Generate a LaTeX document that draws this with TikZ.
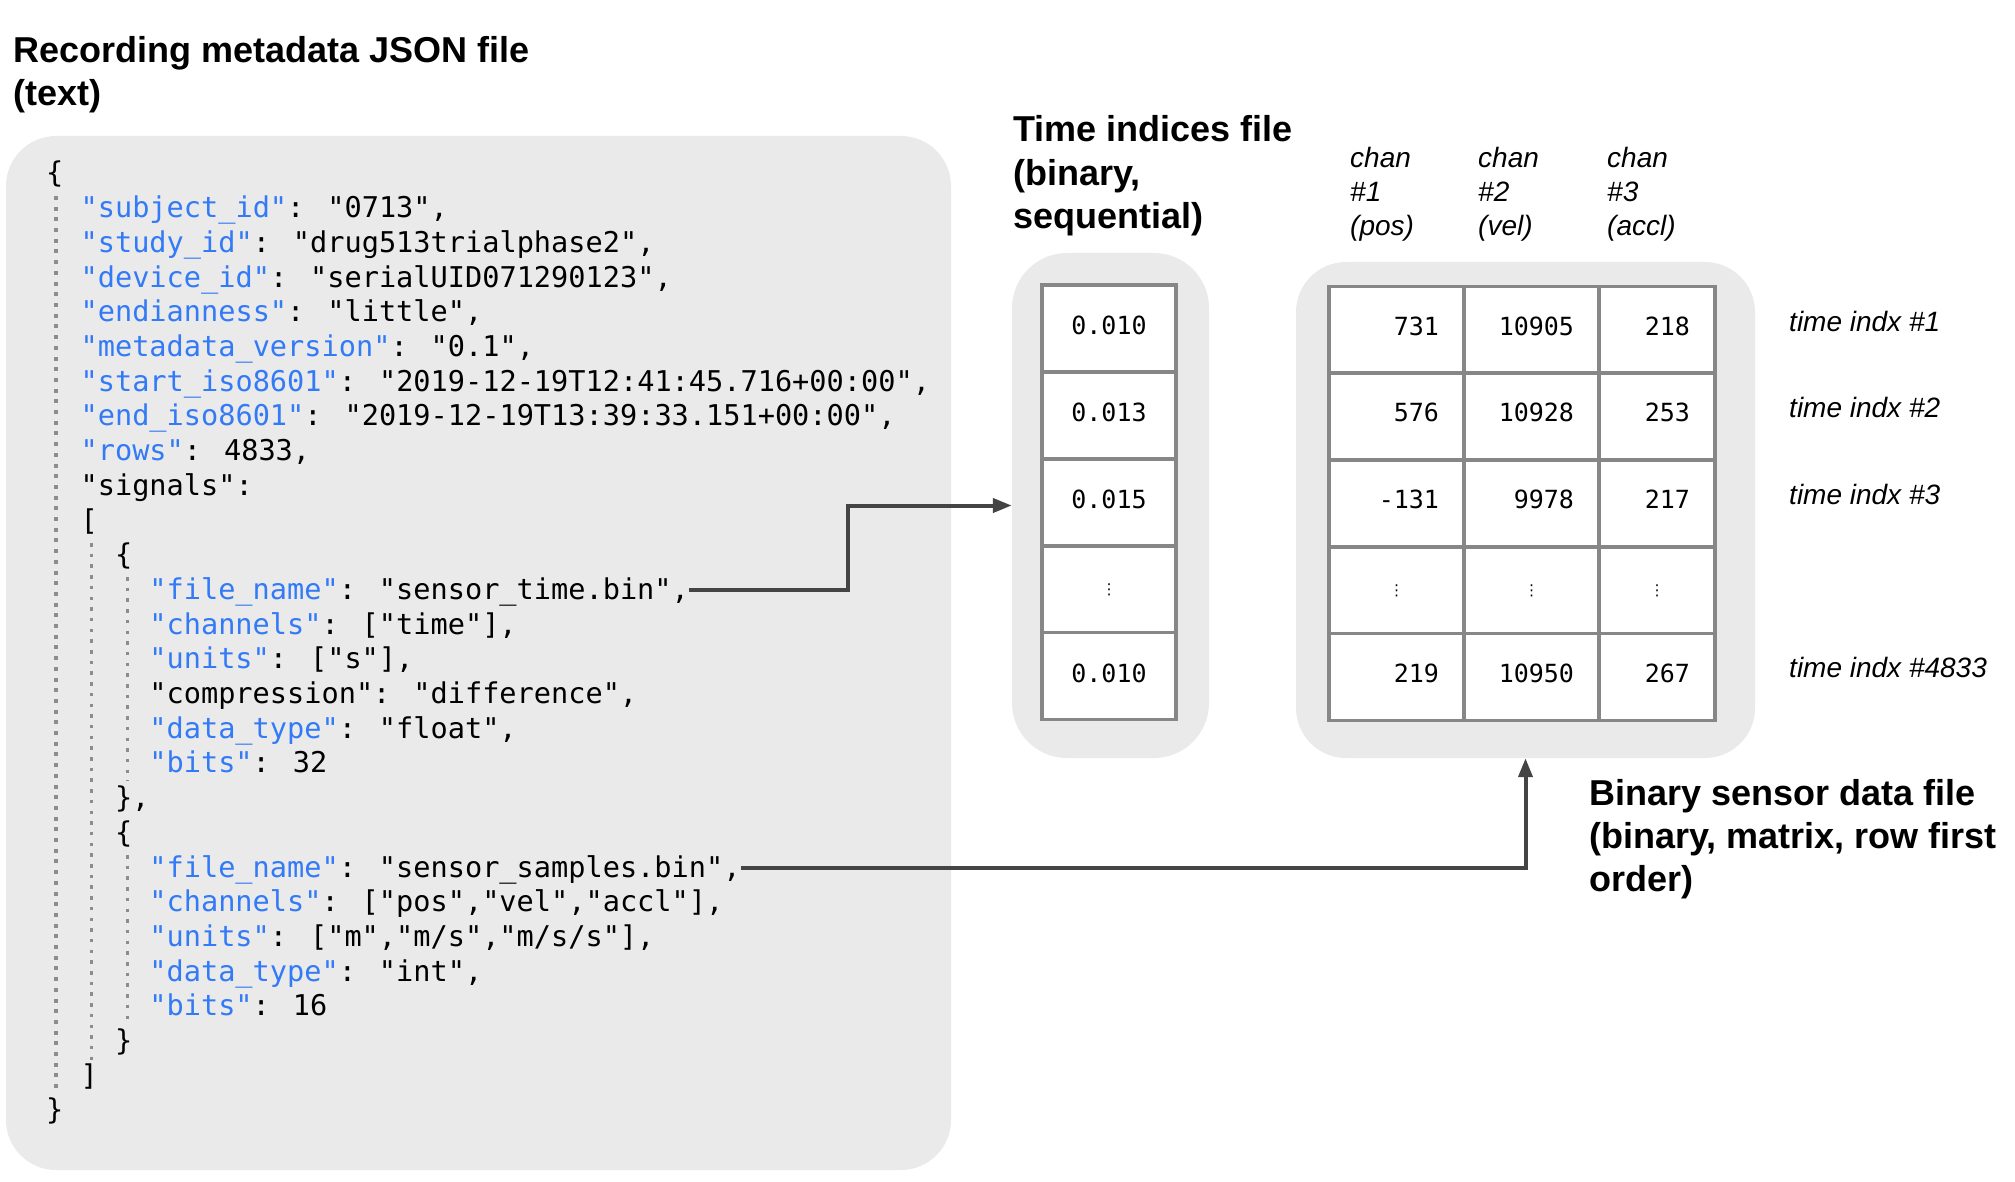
\documentclass[tikz,border=0pt]{standalone}
\usepackage{fontspec}
\setmainfont{Liberation Sans}
\newfontfamily\jsonmono{DejaVu Sans Mono}
\newfontfamily\dotsfont{DejaVu Sans}
\usetikzlibrary{arrows.meta}
\definecolor{keyblue}{RGB}{51,122,247}
\definecolor{bggray}{RGB}{234,234,234}
\definecolor{cellgray}{RGB}{135,135,135}
\definecolor{arrgray}{RGB}{68,68,68}
\definecolor{guidegray}{RGB}{140,140,140}
\newcommand{\jk}[1]{\textcolor{keyblue}{"#1"}}
\begin{document}
\begin{tikzpicture}[x=1pt,y=-1pt,
  bgbox/.style={fill=bggray, draw=none, inner sep=0pt},
  json/.style={anchor=base west, inner sep=0pt, text height=24pt, text depth=6pt,
    font=\jsonmono\fontsize{28.6pt}{34.7pt}\selectfont},
  guideA/.style={draw=guidegray, line width=4pt, dash pattern=on 4pt off 6.7pt},
  guideB/.style={draw=guidegray, line width=3pt, dash pattern=on 3.5pt off 7.2pt},
  title/.style={anchor=base west, inner sep=0pt, font=\fontsize{36pt}{43pt}\selectfont\bfseries},
  ital/.style={anchor=base west, inner sep=0pt, font=\fontsize{28pt}{34pt}\selectfont\itshape},
  tcell/.style={draw=cellgray, line width=3.5pt, fill=white, inner sep=0pt,
    minimum width=134pt, minimum height=87pt, text height=18pt, text depth=6pt,
    font=\jsonmono\fontsize{25pt}{30pt}\selectfont},
  dcell/.style={draw=cellgray, line width=3.5pt, fill=white, inner ysep=0pt, inner xsep=25pt,
    minimum height=86.6pt, text height=18pt, text depth=8pt, align=right,
    font=\jsonmono\fontsize{25pt}{30pt}\selectfont},
  ecell/.style={draw=cellgray, line width=3.5pt, fill=white, inner ysep=0pt, inner xsep=25pt,
    minimum height=86.6pt, align=center, font=\dotsfont\fontsize{15pt}{18pt}\selectfont},
  arr/.style={draw=arrgray, line width=4pt, -{Triangle[length=19pt,width=14pt]}}
]
\useasboundingbox (0,0) rectangle (2015,1182);

% backgrounds
\node[bgbox, rounded corners=50pt, minimum width=945pt, minimum height=1034pt] (jsonbg) at (478.5,653) {};
\node[bgbox, rounded corners=55pt, minimum width=197pt, minimum height=505pt] (timebg) at (1110.5,505.5) {};
\node[bgbox, rounded corners=50pt, minimum width=459pt, minimum height=496pt] (databg) at (1525.5,510) {};

% titles
\node[title] (title1) at (13,63) {Recording metadata JSON file};
\node[title] (title2) at (13,106) {(text)};
\node[title] (tit1) at (1013,142) {Time indices file};
\node[title] (tit2) at (1013,185.5) {(binary,};
\node[title] (tit3) at (1013,229) {sequential)};
\node[title] (bin1) at (1589,805) {Binary sensor data file};
\node[title] (bin2) at (1589,848) {(binary, matrix, row first};
\node[title] (bin3) at (1589,891) {order)};

% indent guides
\draw[guideA] (56,196) -- (56,1093);
\draw[guideB] (91,543) -- (91,1060);
\draw[guideB] (127,577) -- (127,781);
\draw[guideB] (127,855) -- (127,1024);

% JSON text
\node[json] (j0) at (46,183) {\{};
\node[json] (j1) at (80.4,217.7) {\jk{subject\_id}: "0713",};
\node[json] (j2) at (80.4,252.4) {\jk{study\_id}: "drug513trialphase2",};
\node[json] (j3) at (80.4,287.1) {\jk{device\_id}: "serialUID071290123",};
\node[json] (j4) at (80.4,321.8) {\jk{endianness}: "little",};
\node[json] (j5) at (80.4,356.5) {\jk{metadata\_version}: "0.1",};
\node[json] (j6) at (80.4,391.2) {\jk{start\_iso8601}: "2019-12-19T12:41:45.716+00:00",};
\node[json] (j7) at (80.4,425.9) {\jk{end\_iso8601}: "2019-12-19T13:39:33.151+00:00",};
\node[json] (j8) at (80.4,460.6) {\jk{rows}: 4833,};
\node[json] (j9) at (80.4,495.3) {"signals":};
\node[json] (j10) at (80.4,530) {[};
\node[json] (j11) at (114.8,564.7) {\{};
\node[json] (j12) at (149.2,599.4) {\jk{file\_name}: "sensor\_time.bin",};
\node[json] (j13) at (149.2,634.1) {\jk{channels}: ["time"],};
\node[json] (j14) at (149.2,668.8) {\jk{units}: ["s"],};
\node[json] (j15) at (149.2,703.5) {"compression": "difference",};
\node[json] (j16) at (149.2,738.2) {\jk{data\_type}: "float",};
\node[json] (j17) at (149.2,772.9) {\jk{bits}: 32};
\node[json] (j18) at (114.8,807.6) {\},};
\node[json] (j19) at (114.8,842.3) {\{};
\node[json] (j20) at (149.2,877) {\jk{file\_name}: "sensor\_samples.bin",};
\node[json] (j21) at (149.2,911.7) {\jk{channels}: ["pos","vel","accl"],};
\node[json] (j22) at (149.2,946.4) {\jk{units}: ["m","m/s","m/s/s"],};
\node[json] (j23) at (149.2,981.1) {\jk{data\_type}: "int",};
\node[json] (j24) at (149.2,1015.8) {\jk{bits}: 16};
\node[json] (j25) at (114.8,1050.5) {\}};
\node[json] (j26) at (80.4,1085.2) {]};
\node[json] (j27) at (46,1119.9) {\}};

% time indices column
\node[tcell] (t1) at (1109,328.5) {0.010};
\node[tcell] (t2) at (1109,415.5) {0.013};
\node[tcell] (t3) at (1109,502.5) {0.015};
\node[tcell, text height=, text depth=, font=\dotsfont\fontsize{15pt}{18pt}\selectfont] (t4) at (1109,589.5) {⋮};
\node[tcell] (t5) at (1109,676) {0.010};

% channel headers
\node[ital] (c1a) at (1350,168) {chan};
\node[ital] (c1b) at (1350,202) {\#1};
\node[ital] (c1c) at (1350,236) {(pos)};
\node[ital] (c2a) at (1478,168) {chan};
\node[ital] (c2b) at (1478,202) {\#2};
\node[ital] (c2c) at (1478,236) {(vel)};
\node[ital] (c3a) at (1607,168) {chan};
\node[ital] (c3b) at (1607,202) {\#3};
\node[ital] (c3c) at (1607,236) {(accl)};

% data matrix
\node[dcell, text width=85pt] (d11) at (1396.5,330) {731};
\node[dcell, text width=85pt] (d12) at (1531.5,330) {10905};
\node[dcell, text width=66pt] (d13) at (1657,330) {218};
\node[dcell, text width=85pt] (d21) at (1396.5,416.5) {576};
\node[dcell, text width=85pt] (d22) at (1531.5,416.5) {10928};
\node[dcell, text width=66pt] (d23) at (1657,416.5) {253};
\node[dcell, text width=85pt] (d31) at (1396.5,503.5) {-131};
\node[dcell, text width=85pt] (d32) at (1531.5,503.5) {9978};
\node[dcell, text width=66pt] (d33) at (1657,503.5) {217};
\node[ecell, text width=85pt] (d41) at (1396.5,590.5) {⋮};
\node[ecell, text width=85pt] (d42) at (1531.5,590.5) {⋮};
\node[ecell, text width=66pt] (d43) at (1657,590.5) {⋮};
\node[dcell, text width=85pt] (d51) at (1396.5,677) {219};
\node[dcell, text width=85pt] (d52) at (1531.5,677) {10950};
\node[dcell, text width=66pt] (d53) at (1657,677) {267};

% row labels
\node[ital] (r1) at (1789,331) {time indx \#1};
\node[ital] (r2) at (1789,417) {time indx \#2};
\node[ital] (r3) at (1789,504) {time indx \#3};
\node[ital] (r4) at (1789,677) {time indx \#4833};

% connectors
\coordinate (bend1) at (848,0);
\draw[arr] (j12.east) -- (j12.east -| bend1) |- (timebg.west);
\draw[arr] (j20.east) -| (databg.south);
\end{tikzpicture}
\end{document}
